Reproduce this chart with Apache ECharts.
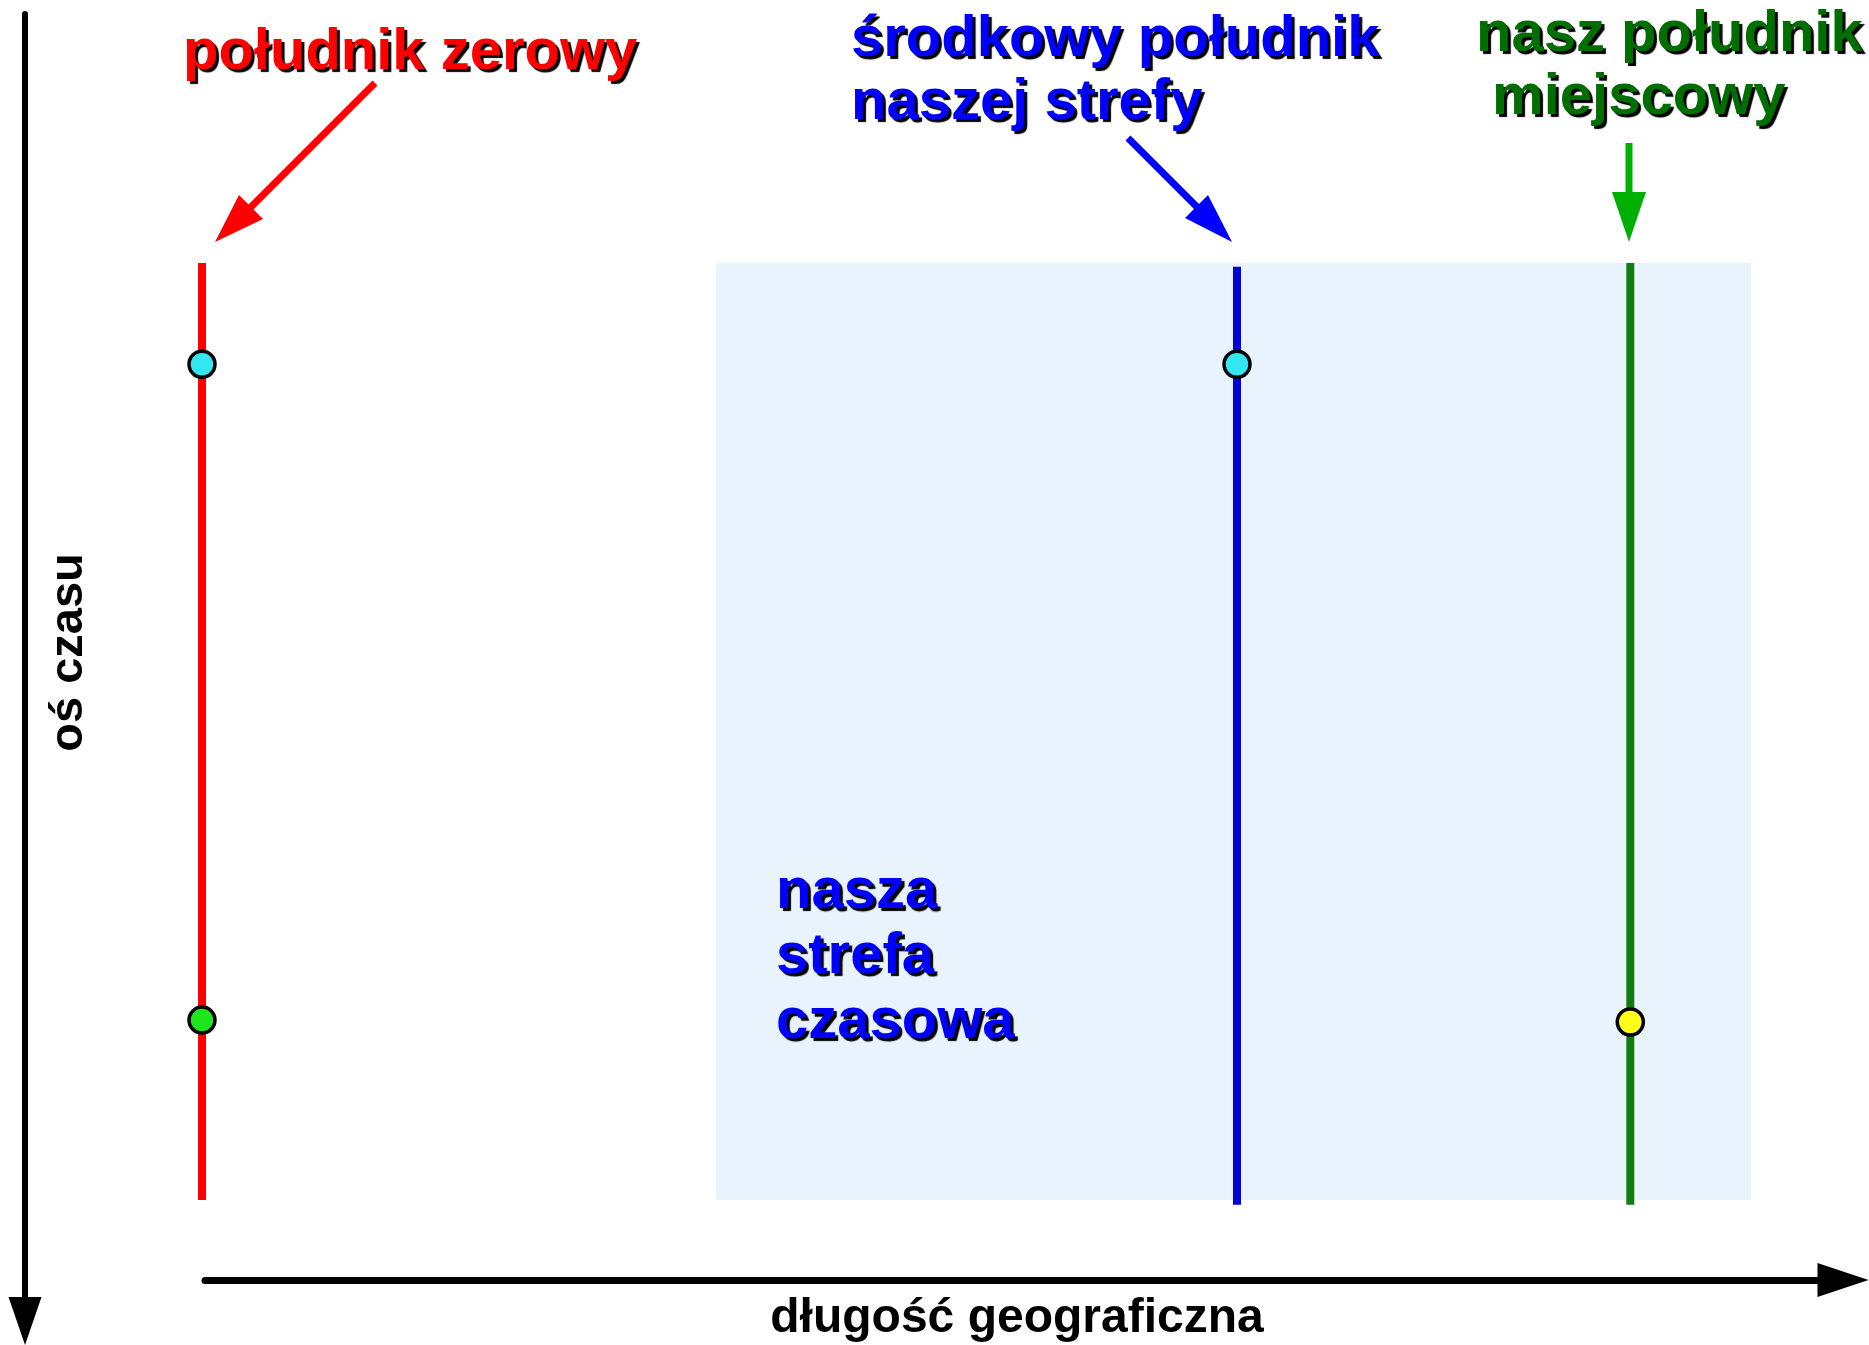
<!DOCTYPE html>
<html>
<head>
<meta charset="utf-8">
<title>Południk zerowy, strefa czasowa</title>
<script src="https://cdn.jsdelivr.net/npm/echarts@6/dist/echarts.min.js"></script>
<style>
  html, body { margin: 0; padding: 0; background: #fff; }
  #chart { width: 1869px; height: 1345px; }
</style>
</head>
<body>
<div id="chart"></div>
<script>
// długość geograficzna południków (stopnie) i zakres na osi czasu
var meridianNames = ['południk zerowy', 'środkowy południk naszej strefy', 'nasz południk miejscowy'];
var meridianLon = [0, 15, 20.7];
var meridianFrom = [0, 0.4, 0];
var meridianTo = [100, 100.5, 100.5];

// nasza strefa czasowa
var zoneLon = [7.45, 22.45];
var zoneTime = [0, 100];

// punkty [długość, czas]
var cyanPoints = [[0, 10.8], [15, 10.8]];
var greenPoints = [[0, 80.8]];
var yellowPoints = [[20.7, 81]];

var FONT = '"Liberation Sans", Arial, sans-serif';
var lineColors = ['#ff0000', '#0000dd', '#117d11'];

function shadowText (color, lh) {
  return {
    color: color,
    fontSize: 58,
    fontWeight: 'bold',
    fontFamily: FONT,
    lineHeight: lh,
    textShadowColor: '#000',
    textShadowBlur: 1,
    textShadowOffsetX: 3,
    textShadowOffsetY: 3
  }
}

var series = meridianLon.map(function (lon, i) {
  return {
    name: meridianNames[i],
    type: 'line',
    xAxisIndex: 0,
    yAxisIndex: 0,
    data: [[lon, meridianFrom[i]], [lon, meridianTo[i]]],
    symbol: 'none',
    clip: false,
    silent: true,
    z: 3,
    lineStyle: { color: lineColors[i], width: 8 }
  }
})

// tło strefy
series[0].markArea = {
  silent: true,
  itemStyle: { color: '#e8f3fd', borderWidth: 0 },
  data: [[
    { xAxis: zoneLon[0], yAxis: zoneTime[0] },
    { xAxis: zoneLon[1], yAxis: zoneTime[1] }
  ]]
}

function dots (data, color) {
  return {
    type: 'scatter',
    xAxisIndex: 0,
    yAxisIndex: 0,
    data: data,
    symbolSize: 26,
    clip: false,
    silent: true,
    z: 5,
    itemStyle: { color: color, opacity: 1, borderColor: '#000', borderWidth: 3.5 }
  }
}
series.push(dots(cyanPoints, '#33e6f2'))
series.push(dots(greenPoints, '#1ee61e'))
series.push(dots(yellowPoints, '#ffff1a'))

var option = {
  animation: false,
  backgroundColor: '#fff',
  title: [
    { text: 'południk zerowy', left: 183, top: 21, padding: 0, textStyle: shadowText('#ff0000', 64) },
    { text: 'środkowy południk\nnaszej strefy', left: 851, top: 8, padding: 0, textStyle: shadowText('#0000ff', 63) },
    { text: 'nasz południk\n miejscowy', left: 1476, top: 3, padding: 0, textStyle: shadowText('#006e00', 63) },
    { text: 'nasza\nstrefa\nczasowa', left: 776, top: 859, padding: 0, textStyle: shadowText('#0000ff', 65) }
  ],
  grid: [
    { left: 202, top: 263, width: 1656, height: 937, outerBoundsMode: 'none' },
    { left: 205, right: 26, top: 0, bottom: 65, outerBoundsMode: 'none' },
    { left: 0, width: 25, top: 14, bottom: 24, outerBoundsMode: 'none' }
  ],
  xAxis: [
    { gridIndex: 0, type: 'value', min: 0, max: 24, show: false },
    {
      gridIndex: 1,
      type: 'value',
      min: 0,
      max: 1,
      position: 'bottom',
      name: 'długość geograficzna',
      nameLocation: 'middle',
      nameGap: 15,
      nameTextStyle: { color: '#000', fontSize: 48, fontWeight: 'bold', fontFamily: FONT, padding: [0, 14, 0, 0] },
      axisLine: {
        show: true,
        onZero: false,
        symbol: ['none', 'triangle'],
        symbolSize: [34, 51],
        lineStyle: { color: '#000', width: 7 }
      },
      axisTick: { show: false },
      axisLabel: { show: false },
      splitLine: { show: false }
    },
    { gridIndex: 2, type: 'value', show: false }
  ],
  yAxis: [
    { gridIndex: 0, type: 'value', min: 0, max: 100, inverse: true, show: false },
    { gridIndex: 1, type: 'value', show: false },
    {
      gridIndex: 2,
      type: 'value',
      min: 0,
      max: 1,
      position: 'right',
      name: 'oś czasu',
      nameLocation: 'middle',
      nameRotate: 90,
      nameGap: 21,
      nameTextStyle: { color: '#000', fontSize: 47, fontWeight: 'bold', fontFamily: FONT, padding: [0, 0, 0, 30] },
      axisLine: {
        show: true,
        onZero: false,
        symbol: ['triangle', 'none'],
        symbolSize: [33, 48],
        lineStyle: { color: '#000', width: 6 }
      },
      axisTick: { show: false },
      axisLabel: { show: false },
      splitLine: { show: false }
    }
  ],
  // strzałki od podpisów do południków
  graphic: [
    { type: 'line', shape: { x1: 375, y1: 83, x2: 248, y2: 210 }, style: { stroke: '#ff0000', lineWidth: 7 } },
    { type: 'polygon', shape: { points: [[215, 242], [239, 195], [263, 219]] }, style: { fill: '#ff0000' } },
    { type: 'line', shape: { x1: 1128, y1: 138, x2: 1199, y2: 209 }, style: { stroke: '#0000ff', lineWidth: 7 } },
    { type: 'polygon', shape: { points: [[1232, 242], [1185, 218], [1208, 195]] }, style: { fill: '#0000ff' } },
    { type: 'line', shape: { x1: 1629, y1: 143, x2: 1629, y2: 196 }, style: { stroke: '#00b000', lineWidth: 7 } },
    { type: 'polygon', shape: { points: [[1629, 242], [1612, 192], [1646, 192]] }, style: { fill: '#00b000' } }
  ],
  series: series
}

var chart = echarts.init(document.getElementById('chart'))
chart.setOption(option)
window.addEventListener('resize', function () { chart.resize() })
</script>
</body>
</html>
